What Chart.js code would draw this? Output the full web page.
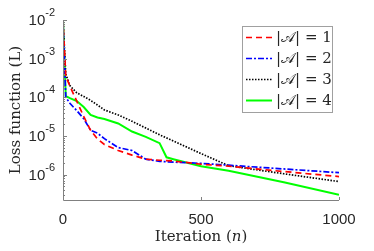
<!DOCTYPE html>
<html>
<head>
<meta charset="utf-8">
<script src="https://cdn.jsdelivr.net/npm/chart.js@4/dist/chart.umd.min.js"></script>
<style>
  html, body { margin: 0; padding: 0; background: #fff; }
  #wrap { width: 374px; height: 251px; }
</style>
</head>
<body>
<div id="wrap"><canvas id="chart1"></canvas></div>
<script>
// iteration samples shared by all four runs
const iterations = [0, 10, 25, 50, 75, 100, 125, 150, 200, 250, 300, 350, 375, 400, 500, 600, 800, 1000];

const lossA1 = [1e-2, 3.5e-4, 1.95e-4, 7.9e-5, 3.2e-5, 1.4e-5, 8.3e-6, 6e-6, 4.2e-6, 3.2e-6, 2.5e-6, 2.35e-6, 2.3e-6, 2.25e-6, 1.85e-6, 1.65e-6, 1.2e-6, 8.9e-7];
const lossA2 = [1e-2, 1e-4, 7e-5, 4.5e-5, 2.8e-5, 1.4e-5, 1.18e-5, 8.5e-6, 5e-6, 4.2e-6, 2.5e-6, 2.2e-6, 2.15e-6, 2.1e-6, 1.95e-6, 1.75e-6, 1.4e-6, 1.12e-6];
const lossA3 = [1e-2, 4e-4, 2e-4, 1.3e-4, 1.05e-4, 8.3e-5, 6.3e-5, 4.7e-5, 3.5e-5, 2.4e-5, 1.6e-5, 1.07e-5, 8.9e-6, 7.4e-6, 3.5e-6, 1.7e-6, 1.05e-6, 6.6e-7];
const lossA4 = [1e-2, 1.07e-4, 9.5e-5, 8e-5, 5.6e-5, 3.5e-5, 3e-5, 2.75e-5, 2.1e-5, 1.3e-5, 9.5e-6, 6.5e-6, 2.8e-6, 2.5e-6, 1.65e-6, 1.26e-6, 6.3e-7, 3e-7];

const seriesSizes = [1, 2, 3, 4];
const xTicks = [0, 500, 1000];
const yTickExps = [-2, -3, -4, -5, -6];

const axisGray = '#262626';
const serif = '"DejaVu Serif", serif';
const sans = '"Liberation Sans", Arial, sans-serif';

function pts(vals) {
    return iterations.map(function (n, i) { return { x: n, y: vals[i] }; });
}

// axes, ticks, titles and legend drawn by hand to look like a matlab figure
const matlabLook = {
    id: 'matlabLook',
    afterDatasetsDraw: function (chart) {
        const ctx = chart.ctx;
        const xs = chart.scales.x;
        const ys = chart.scales.y;
        const a = chart.chartArea;
        ctx.save();

        // axis lines (box off)
        ctx.strokeStyle = '#808080';
        ctx.lineWidth = 1;
        ctx.beginPath();
        ctx.moveTo(a.left + 0.5, a.top);
        ctx.lineTo(a.left + 0.5, a.bottom + 0.5);
        ctx.lineTo(a.right, a.bottom + 0.5);
        ctx.stroke();

        // y ticks, minor ones too
        ctx.beginPath();
        for (let k = -7; k <= -2; k++) {
            for (let m = 1; m <= 9; m++) {
                const v = m * Math.pow(10, k);
                if (v < ys.min || v > ys.max * 1.0001) continue;
                const py = Math.round(ys.getPixelForValue(v)) + 0.5;
                const len = m === 1 ? 4 : 2;
                ctx.moveTo(a.left, py);
                ctx.lineTo(a.left + len, py);
            }
        }
        // x ticks
        xTicks.forEach(function (t) {
            const px = Math.round(xs.getPixelForValue(t)) + 0.5;
            ctx.moveTo(px, a.bottom);
            ctx.lineTo(px, a.bottom - 3);
        });
        ctx.stroke();

        // tick labels
        ctx.fillStyle = axisGray;
        ctx.textBaseline = 'middle';
        yTickExps.forEach(function (e) {
            const py = ys.getPixelForValue(Math.pow(10, e));
            const expStr = String(e);
            ctx.font = '11px ' + sans;
            const ew = ctx.measureText(expStr).width;
            ctx.textAlign = 'left';
            ctx.fillText(expStr, a.left - 8 - ew, py - 7);
            ctx.font = '15px ' + sans;
            ctx.textAlign = 'right';
            ctx.fillText('10', a.left - 8 - ew, py + 1);
        });
        ctx.font = '15px ' + sans;
        ctx.textAlign = 'center';
        ctx.textBaseline = 'alphabetic';
        xTicks.forEach(function (t) {
            ctx.fillText(String(t), xs.getPixelForValue(t), 224);
        });

        // x title with italic n
        const runsX = [['Iteration (', ''], ['n', 'italic '], [')', '']];
        drawRuns(ctx, runsX, (a.left + a.right) / 2, 241, 15, true);

        // y title
        ctx.save();
        ctx.translate(20, (a.top + a.bottom) / 2);
        ctx.rotate(-Math.PI / 2);
        drawRuns(ctx, [['Loss function (L)', '']], 0, 0, 15, true);
        ctx.restore();

        // legend
        const lx = 242, ly = 26, lw = 90, lh = 86;
        ctx.fillStyle = '#fff';
        ctx.fillRect(lx, ly, lw, lh);
        ctx.strokeStyle = '#a0a0a0';
        ctx.lineWidth = 1;
        ctx.strokeRect(lx + 0.5, ly + 0.5, lw, lh);
        chart.data.datasets.forEach(function (ds, i) {
            const cy = ly + 11 + i * 21;
            ctx.strokeStyle = ds.borderColor;
            ctx.lineWidth = ds.borderWidth;
            ctx.setLineDash(ds.borderDash || []);
            ctx.beginPath();
            ctx.moveTo(lx + 4, cy + 0.5);
            ctx.lineTo(lx + 30, cy + 0.5);
            ctx.stroke();
            ctx.setLineDash([]);
            drawRuns(ctx, [['|', ''], ['\u{1D49C}', ''], ['| = ' + seriesSizes[i], '']], lx + 34, cy + 5, 15, false);
        });
        ctx.restore();
    }
};

function drawRuns(ctx, runs, x, y, size, centered) {
    ctx.textAlign = 'left';
    ctx.textBaseline = 'alphabetic';
    let total = 0;
    runs.forEach(function (r) {
        ctx.font = r[1] + size + 'px ' + serif;
        total += ctx.measureText(r[0]).width;
    });
    let cx = centered ? x - total / 2 : x;
    runs.forEach(function (r) {
        ctx.font = r[1] + size + 'px ' + serif;
        ctx.fillStyle = axisGray;
        ctx.fillText(r[0], cx, y);
        cx += ctx.measureText(r[0]).width;
    });
}

document.addEventListener("DOMContentLoaded", function () {
    var ctx = document.getElementById('chart1').getContext('2d');
    new Chart(ctx, {
        type: 'line',
        data: {
            datasets: [{
                label: '|A| = 1',
                data: pts(lossA1),
                borderColor: '#ff0000',
                borderWidth: 1.7,
                borderDash: [6, 4]
            }, {
                label: '|A| = 2',
                data: pts(lossA2),
                borderColor: '#0000ff',
                borderWidth: 1.7,
                borderDash: [6, 2, 2, 2]
            }, {
                label: '|A| = 3',
                data: pts(lossA3),
                borderColor: '#000000',
                borderWidth: 1.7,
                borderDash: [1.5, 1.5]
            }, {
                label: '|A| = 4',
                data: pts(lossA4),
                borderColor: '#00ff00',
                borderWidth: 2
            }]
        },
        options: {
            responsive: true,
            maintainAspectRatio: false,
            animation: false,
            layout: { padding: { top: 20, right: 35, left: 0, bottom: 0 } },
            elements: {
                point: { radius: 0 },
                line: { tension: 0 }
            },
            plugins: {
                legend: { display: false },
                tooltip: { enabled: false }
            },
            scales: {
                x: {
                    type: 'linear',
                    min: 0,
                    max: 1000,
                    ticks: { display: false },
                    grid: { display: false },
                    border: { display: false },
                    afterFit: function (s) { s.height = 51; }
                },
                y: {
                    type: 'logarithmic',
                    min: 2.2e-7,
                    max: 1e-2,
                    ticks: { display: false },
                    grid: { display: false },
                    border: { display: false },
                    afterFit: function (s) { s.width = 63; }
                }
            }
        },
        plugins: [matlabLook]
    });
});
</script>
</body>
</html>
